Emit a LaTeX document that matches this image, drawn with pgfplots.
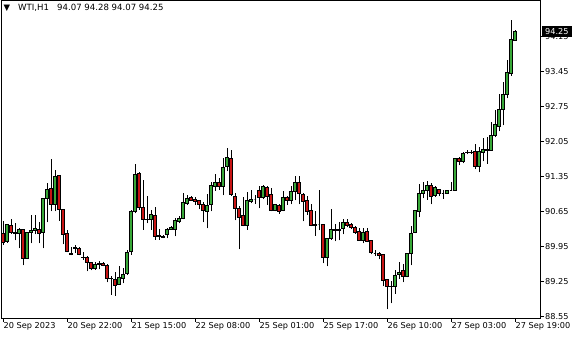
\documentclass[border=0pt]{standalone}
\usepackage{pgfplots}
\pgfplotsset{compat=1.18}
\usepackage{pgfplotstable}
\usepackage{fontspec}
\setmainfont{DejaVu Sans}
\definecolor{bull}{RGB}{56,168,56}
\definecolor{bear}{RGB}{200,20,20}

\pgfdeclareplotmark{candle}{%
  \pgfsetlinewidth{1bp}%
  \pgfsetstrokecolor{black}%
  \pgfpathmoveto{\pgfpoint{0bp}{0bp}}%
  \pgfpathlineto{\pgfpoint{0bp}{\hh bp}}%
  \pgfusepath{stroke}%
  \ifdim\dir pt<0pt \pgfsetfillcolor{bear}\else\pgfsetfillcolor{bull}\fi
  \pgfsetlinewidth{1bp}%
  \pgfpathrectangle{\pgfpoint{-1.05bp}{\bb bp}}{\pgfpoint{2.1bp}{\bh bp}}%
  \pgfusepath{fill,stroke}%
}

\pgfplotstableread{
i o h l c
0 90.21 90.46 89.98 90.03
1 90.04 90.40 90.02 90.39
2 90.37 90.49 90.20 90.23
3 90.22 90.42 90.07 90.21
4 90.21 90.31 89.91 90.29
5 90.29 90.29 89.57 89.71
6 89.71 90.24 89.70 90.23
7 90.22 90.57 90.01 90.27
8 90.27 90.57 90.19 90.30
9 90.28 90.43 90.01 90.21
10 90.23 90.90 89.91 90.90
11 90.91 91.21 90.43 91.09
12 91.11 91.70 90.65 90.79
13 90.79 91.47 90.65 91.35
14 91.36 91.36 90.46 90.68
15 90.69 90.69 89.99 90.19
16 90.21 90.28 89.83 89.85
17 89.81 89.93 89.77 89.79
18 89.90 89.97 89.82 89.93
19 89.90 89.93 89.77 89.79
20 89.73 89.83 89.68 89.72
21 89.73 89.76 89.45 89.63
22 89.63 89.63 89.47 89.51
23 89.51 89.64 89.48 89.59
24 89.59 89.65 89.49 89.60
25 89.61 89.64 89.55 89.56
26 89.57 89.60 89.23 89.31
27 89.31 89.35 88.98 89.30
28 89.29 89.43 88.96 89.17
29 89.19 89.56 89.18 89.32
30 89.30 89.51 89.21 89.39
31 89.41 89.87 89.38 89.83
32 89.85 90.67 89.78 90.65
33 90.65 91.60 90.61 91.38
34 91.40 91.43 90.68 90.73
35 90.73 91.28 90.28 90.49
36 90.49 90.96 90.41 90.48
37 90.49 90.68 90.28 90.58
38 90.57 90.73 90.08 90.15
39 90.15 90.29 90.08 90.16
40 90.14 90.18 90.11 90.13
41 90.19 90.31 90.11 90.29
42 90.29 90.36 90.28 90.33
43 90.29 90.52 90.15 90.46
44 90.45 90.55 90.41 90.51
45 90.51 91.01 90.49 90.83
46 90.81 90.98 90.78 90.91
47 90.93 90.96 90.86 90.87
48 90.89 90.93 90.78 90.85
49 90.86 90.88 90.69 90.79
50 90.79 90.83 90.43 90.67
51 90.65 91.00 90.31 90.77
52 90.79 91.24 90.65 91.16
53 91.15 91.39 91.06 91.23
54 91.23 91.31 91.08 91.15
55 91.15 91.71 90.97 91.53
56 91.55 91.92 91.45 91.73
57 91.71 91.87 90.96 90.99
58 90.95 91.01 90.47 90.71
59 90.71 90.75 89.89 90.53
60 90.56 90.93 90.35 90.37
61 90.37 91.03 90.28 90.86
62 90.85 91.08 90.81 90.89
63 90.88 90.97 90.80 90.88
64 91.06 91.15 90.71 90.93
65 90.93 91.17 90.89 91.15
66 91.13 91.15 90.78 90.95
67 90.99 91.11 90.65 90.67
68 90.67 90.80 90.65 90.78
69 90.77 90.79 90.60 90.65
70 90.67 91.05 90.65 90.93
71 90.93 90.96 90.78 90.87
72 90.87 91.16 90.79 91.05
73 91.05 91.36 90.87 91.23
74 91.23 91.36 90.79 91.01
75 90.99 91.01 90.45 90.85
76 90.87 90.95 90.58 90.65
77 90.66 90.79 90.35 90.37
78 90.39 90.65 90.16 90.37
79 90.38 91.08 90.27 90.38
80 90.38 90.38 89.61 89.73
81 89.73 90.10 89.55 90.10
82 90.11 90.69 90.08 90.29
83 90.29 90.39 90.05 90.27
84 90.26 90.43 90.07 90.29
85 90.30 90.49 90.19 90.43
86 90.43 90.50 90.33 90.37
87 90.39 90.41 90.29 90.33
88 90.33 90.35 90.20 90.22
89 90.24 90.31 90.06 90.07
90 90.07 90.31 90.01 90.23
91 90.24 90.31 90.03 90.05
92 90.06 90.06 89.79 89.83
93 89.81 89.87 89.76 89.81
94 89.81 89.83 89.69 89.77
95 89.78 89.78 89.15 89.27
96 89.28 89.28 88.69 89.15
97 89.15 89.25 88.81 89.14
98 89.15 89.48 89.00 89.37
99 89.39 89.63 89.30 89.43
100 89.46 89.59 89.23 89.35
101 89.35 89.81 89.33 89.81
102 89.81 90.35 89.57 90.21
103 90.23 90.66 90.21 90.66
104 90.65 91.20 90.53 91.01
105 91.01 91.23 90.91 91.07
106 91.07 91.25 90.88 91.17
107 91.16 91.21 90.79 90.95
108 90.96 91.16 90.94 91.12
109 91.08 91.09 90.95 91.01
110 91.01 91.07 90.90 91.01
111 91.01 91.07 91.00 91.06
112 91.07 91.23 91.06 91.07
113 91.07 91.71 91.06 91.71
114 91.71 91.73 91.57 91.65
115 91.65 91.83 91.61 91.80
116 91.83 91.88 91.79 91.82
117 91.82 91.87 91.80 91.83
118 91.85 92.00 91.49 91.55
119 91.55 91.93 91.43 91.85
120 91.83 92.11 91.65 91.89
121 91.87 92.13 91.60 91.89
122 91.87 92.43 91.87 92.17
123 92.16 92.68 92.13 92.38
124 92.35 93.00 92.25 92.69
125 92.69 93.23 92.37 92.98
126 92.99 93.68 92.91 93.43
127 93.41 94.47 93.36 94.09
128 94.07 94.28 94.07 94.25
}\candles

\begin{document}
\begin{tikzpicture}
\begin{axis}[
  at={(0,0)}, anchor=south west,
  x=4bp, y=50bp,
  xmin=-0.5, xmax=134.375, ymin=88.51, ymax=94.86,
  axis line style={line width=1bp, black},
  tick style={black, line width=1bp},
  tick align=outside, major tick length=3.5bp,
  xtick pos=left, ytick pos=right, yticklabel pos=right,
  xtick={0,16,32,48,64,80,96,112,128},
  xticklabels={20 Sep 2023,20 Sep 22:00,21 Sep 15:00,22 Sep 08:00,25 Sep 01:00,25 Sep 17:00,26 Sep 10:00,27 Sep 03:00,27 Sep 19:00},
  ytick={88.55,89.25,89.95,90.65,91.35,92.05,92.75,93.45,94.15},
  yticklabels={88.55,89.25,89.95,90.65,91.35,92.05,92.75,93.45,94.15},
  ticklabel style={font=\fontsize{8.2}{9}\selectfont, black, inner sep=0pt},
  xticklabel style={anchor=north west, xshift=0.5bp},
  yticklabel style={anchor=west, xshift=1bp},
]
\addplot[scatter, only marks, mark=candle,
  visualization depends on={(\thisrow{h}-\thisrow{l})*50 \as \hh},
  visualization depends on={(min(\thisrow{o},\thisrow{c})-\thisrow{l})*50 \as \bb},
  visualization depends on={abs(\thisrow{c}-\thisrow{o})*50 \as \bh},
  visualization depends on={\thisrow{c}-\thisrow{o} \as \dir},
] table[x=i, y=l] {\candles};
\end{axis}
\node[anchor=base west, inner sep=0pt, font=\fontsize{8.5}{9}\selectfont] at (2.5bp, 308.3bp) {▼};
\node[anchor=base west, inner sep=0pt, font=\fontsize{8.6}{10}\selectfont] at (17bp, 307.5bp) {WTI,H1};
\node[anchor=base west, inner sep=0pt, font=\fontsize{8.6}{10}\selectfont] at (56bp, 307.5bp) {94.07 94.28 94.07 94.25};
\node[anchor=west, fill=black, text=white, inner xsep=3bp, inner ysep=2.2bp, text height=6bp, text depth=0bp, font=\fontsize{8.2}{9}\selectfont] at (541bp, 287bp) {94.25};
\pgfresetboundingbox
\path[use as bounding box] (-1bp,-21.5bp) rectangle (579bp,318.5bp);
\end{tikzpicture}
\end{document}
